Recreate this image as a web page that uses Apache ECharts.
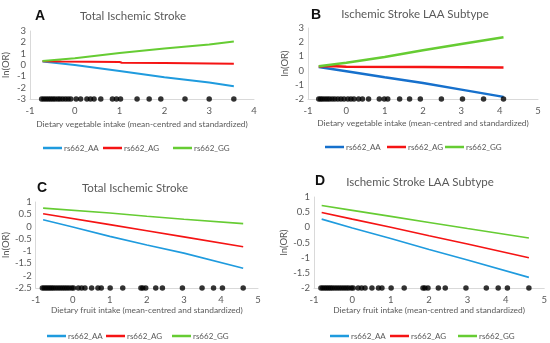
<!DOCTYPE html>
<html><head><meta charset="utf-8">
<script src="https://cdn.jsdelivr.net/npm/echarts@6/dist/echarts.min.js"></script>
<style>html,body{margin:0;padding:0;background:#fff}#c{width:550px;height:343px}</style>
</head><body><div id="c"></div>
<script>
// ---- data ----
var seriesNames = ['rs662_AA', 'rs662_AG', 'rs662_GG'];
var panelLetters = ['A', 'B', 'C', 'D'];
var panelTitles = ['Total Ischemic Stroke', 'Ischemic Stroke LAA Subtype', 'Total Ischemic Stroke', 'Ischemic Stroke LAA Subtype'];
var xNames = ['Dietary vegetable intake (mean-centred and standardized)', 'Dietary vegetable intake (mean-centred and standardized)',
              'Dietary fruit intake (mean-centred and standardized)', 'Dietary fruit intake (mean-centred and standardized)'];

// Panel A
var A_AA = [[-0.72,0.3],[0,0],[1,-0.53],[2,-1.08],[3,-1.55],[3.55,-1.88]];
var A_AG = [[-0.72,0.32],[-0.3,0.3],[1,0.27],[1.05,0.2],[2,0.18],[3.55,0.1]];
var A_GG = [[-0.72,0.35],[0,0.6],[1,1.05],[2,1.45],[3,1.8],[3.55,2.08]];
var A_dots = [-0.74,-0.69,-0.64,-0.59,-0.54,-0.49,-0.44,-0.38,-0.33,-0.27,-0.21,-0.15,-0.09,0.03,0.13,0.27,0.35,0.43,0.58,0.84,0.93,1.02,1.39,1.66,1.92,2.46,3.0,3.55];
// Panel B
var B_AA = [[-0.72,0.25],[0,-0.05],[1,-0.47],[2,-0.88],[3,-1.34],[4.1,-1.85]];
var B_AG = [[-0.72,0.28],[-0.4,0.33],[0,0.27],[2,0.25],[4.1,0.22]];
var B_GG = [[-0.72,0.3],[0,0.55],[1,0.96],[2,1.43],[3,1.88],[4.1,2.35]];
var B_dots = [-0.72,-0.67,-0.62,-0.56,-0.5,-0.44,-0.37,-0.3,-0.22,-0.14,-0.06,0.04,0.12,0.2,0.32,0.42,0.58,0.86,0.99,1.08,1.39,1.65,1.93,2.48,3.03,3.58,4.1];
// Panel C
var C_AA = [[-0.8,0.28],[0,-0.02],[1,-0.4],[2,-0.75],[3,-1.08],[4.6,-1.7]];
var C_AG = [[-0.8,0.52],[1,0.08],[2,-0.17],[3,-0.42],[4.6,-0.82]];
var C_GG = [[-0.8,0.75],[1,0.55],[2,0.42],[3,0.3],[4.6,0.12]];
// Panel D
var D_AA = [[-0.8,0.27],[0,-0.02],[1,-0.37],[2,-0.73],[3,-1.08],[4.6,-1.65]];
var D_AG = [[-0.8,0.49],[0,0.27],[1,0.0],[2,-0.28],[3,-0.55],[4.6,-1.0]];
var D_GG = [[-0.8,0.72],[0,0.56],[1,0.36],[2,0.16],[3,-0.04],[4.6,-0.35]];
var fruit_dots = [-0.82,-0.77,-0.72,-0.67,-0.62,-0.57,-0.52,-0.46,-0.4,-0.34,-0.28,-0.22,-0.16,-0.1,-0.03,0.02,0.15,0.24,0.33,0.51,0.68,0.77,1.01,1.35,1.84,1.89,1.97,2.24,2.42,2.96,3.49,3.8,4.04,4.6];

// axis ranges
var xMin = [-1,-1,-1,-1], xMax = [4,5,5,5], xInt = [1,1,1,1];
var yMin = [-3,-2,-2.5,-2], yMax = [3,3,1,1], yInt = [1,1,0.5,0.5];

var lines = [[A_AA,A_AG,A_GG],[B_AA,B_AG,B_GG],[C_AA,C_AG,C_GG],[D_AA,D_AG,D_GG]];
var dots = [A_dots, B_dots, fruit_dots, fruit_dots];

// ---- styles / layout ----
var colors = [
  ['#1F9BDE','#F51414','#66CC33'],
  ['#1670CC','#F51414','#66CC33'],
  ['#1F9BDE','#F51414','#66CC33'],
  ['#1F9BDE','#F51414','#66CC33']
];
var lineW = [2, 2.5, 1.6, 1.6];
var grids = [
  {left:29, top:31, width:225, height:68},
  {left:308, top:28, width:230, height:71},
  {left:33, top:202, width:225, height:86},
  {left:314, top:197, width:233, height:91}
];
var letterPos = [{left:30,top:4},{left:306,top:3},{left:32,top:176},{left:310,top:169}];
var titleCenter = [128, 410, 130, 415];
var titleTop = [5, 3, 177, 171];
var xNameGap = [21, 20, 17, 18];
var legendItemLeft = [[38,98,168],[320,382,440],[42,101,167],[325,385,453]];
var legendTop = [139, 138, 327, 327];

var FONT = "Lato,'Liberation Sans',Arial,sans-serif";
var gray = '#595959';

var option = {animation:false, backgroundColor:'#fff', grid:[], xAxis:[], yAxis:[], series:[], title:[], legend:[]};
for (var p=0;p<4;p++){
  option.grid.push(grids[p]);
  option.xAxis.push({type:'value', gridIndex:p, min:xMin[p], max:xMax[p], interval:xInt[p],
    name:xNames[p], nameLocation:'middle', nameGap:xNameGap[p],
    nameTextStyle:{color:gray, fontSize:8.4, fontFamily:FONT},
    axisLine:{show:true, onZero:false, lineStyle:{color:'#d9d9d9', width:1}},
    axisTick:{show:false}, splitLine:{show:false},
    axisLabel:{color:gray, fontSize:9.5, fontFamily:FONT, margin:7}});
  option.yAxis.push({type:'value', gridIndex:p, min:yMin[p], max:yMax[p], interval:yInt[p],
    name:'ln(OR)', nameLocation:'middle', nameGap: (p%2===0?19:18),
    nameTextStyle:{color:gray, fontSize:9.5, fontFamily:FONT},
    axisLine:{show:true, onZero:false, lineStyle:{color:'#d9d9d9', width:1}},
    axisTick:{show:false}, splitLine:{show:false},
    axisLabel:{color:gray, fontSize:9.5, fontFamily:FONT, margin:4}});
  for (var s=0;s<3;s++){
    option.series.push({type:'line', name:seriesNames[s]+'|'+p, xAxisIndex:p, yAxisIndex:p,
      data:lines[p][s], showSymbol:false, symbol:'none', z:3,
      lineStyle:{color:colors[p][s], width:lineW[p]}, itemStyle:{color:colors[p][s]}});
    option.legend.push({left:legendItemLeft[p][s], top:legendTop[p], orient:'horizontal',
      data:[seriesNames[s]+'|'+p],
      formatter:function(n){return n.split('|')[0];},
      icon:'rect', itemWidth:19, itemHeight:2.5,
      textStyle:{color:gray, fontSize:8, fontFamily:FONT, padding:[0,0,0,-3]}});
  }
  option.series.push({type:'scatter', name:'dots'+p, xAxisIndex:p, yAxisIndex:p, z:4,
    data:dots[p].map(function(v){return [v, yMin[p]];}), symbolSize:5.5,
    itemStyle:{color:'#000'}});
  option.title.push({text:panelLetters[p], left:letterPos[p].left, top:letterPos[p].top,
    textStyle:{fontSize:14, fontWeight:'bold', color:'#111', fontFamily:"'Liberation Sans',Arial,sans-serif"}});
  option.title.push({text:panelTitles[p], left:titleCenter[p], top:titleTop[p], textAlign:'center',
    textStyle:{fontSize:11.5, fontWeight:'normal', color:gray, fontFamily:FONT}});
}
var chart = echarts.init(document.getElementById('c'), null, {renderer:'canvas'});
chart.setOption(option);
</script></body></html>
